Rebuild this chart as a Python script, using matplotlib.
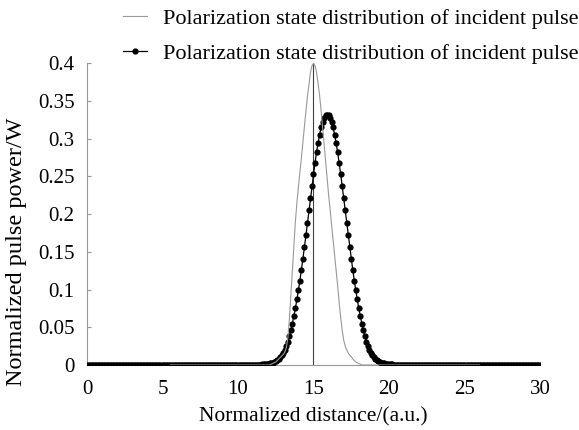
import numpy as np
import matplotlib
matplotlib.use("Agg")
import matplotlib.pyplot as plt

plt.rcParams['font.family'] = ['Liberation Serif', 'DejaVu Serif']

# ---- data ----
label_text = 'Polarization state distribution of incident pulse'
x_step = 0.1

# black dotted curve: zero everywhere except a pulse starting at x=11.6
black_start = 11.6
black_left = [0.001, 0.001, 0.001, 0.001, 0.001, 0.002, 0.002, 0.003, 0.004, 0.005,
              0.006, 0.008, 0.010, 0.013, 0.016, 0.020, 0.025, 0.031, 0.038, 0.046,
              0.055, 0.065, 0.075, 0.087, 0.099, 0.112, 0.126, 0.141, 0.156, 0.172,
              0.188, 0.205, 0.221, 0.237, 0.253, 0.268, 0.282, 0.294, 0.305, 0.315,
              0.322, 0.328, 0.331]
black_top = 0.332
black_right = black_left[::-1]
black_vals = black_left + [black_top] + black_right

# grey curve: pulse centred on x=15, starting at x=12.2
grey_range = (5.5, 26.0)
grey_start = 12.2
grey_left = [0.001, 0.002, 0.003, 0.004, 0.006, 0.008, 0.010, 0.012, 0.014, 0.017,
             0.023, 0.036, 0.060, 0.093, 0.127, 0.160, 0.190, 0.215, 0.236, 0.255,
             0.275, 0.296, 0.317, 0.337, 0.356, 0.372, 0.388, 0.397]
grey_top = 0.400
grey_right = [0.397, 0.388, 0.374, 0.358, 0.338, 0.316, 0.293, 0.270, 0.248, 0.226,
              0.206, 0.186, 0.167, 0.147, 0.126, 0.105, 0.083, 0.063, 0.046, 0.033,
              0.025, 0.020, 0.016, 0.013, 0.011, 0.008, 0.006, 0.004, 0.003, 0.002,
              0.001]
grey_vals = grey_left + [grey_top] + grey_right

yticks = [0, 0.05, 0.1, 0.15, 0.2, 0.25, 0.3, 0.35, 0.4]
ytick_labels = ['0', '0.05', '0.1', '0.15', '0.2', '0.25', '0.3', '0.35', '0.4']
xticks = [0, 5, 10, 15, 20, 25, 30]

# build full series
x_black = np.round(np.arange(0, 30 + x_step / 2, x_step), 1)
y_black = np.zeros_like(x_black)
i0 = int(round(black_start / x_step))
y_black[i0:i0 + len(black_vals)] = black_vals

x_grey = np.round(np.arange(grey_range[0], grey_range[1] + x_step / 2, x_step), 1)
y_grey = np.zeros_like(x_grey)
j0 = int(round((grey_start - grey_range[0]) / x_step))
y_grey[j0:j0 + len(grey_vals)] = grey_vals

fig = plt.figure(figsize=(5.79, 4.30), dpi=100)
ax = fig.add_axes([0.1503, 0.1512, 0.7823, 0.7016])

ax.plot(x_black, y_black, color='black', lw=0.9, marker='o', ms=4.5,
        markeredgewidth=0, label=label_text, zorder=3)
ax.plot(x_grey, y_grey, color='#999999', lw=0.8, label=label_text, zorder=4)
ax.vlines(15, 0, 0.4, color='#404040', lw=0.8, zorder=2)

ax.set_xlim(0, 30)
ax.set_ylim(0, 0.4)
ax.set_yticks(yticks)
ax.set_yticklabels(ytick_labels)
ax.set_xticks(xticks)
for s in ['top', 'right']:
    ax.spines[s].set_visible(False)
for s in ['left', 'bottom']:
    ax.spines[s].set_color('#999999')
    ax.spines[s].set_linewidth(0.8)
ax.tick_params(axis='y', direction='in', length=3, color='#999999', labelsize=15, pad=9)
ax.tick_params(axis='x', length=0, labelsize=15, pad=11)

fig.text(0.029, 0.414, 'Normalized pulse power/W', rotation=90, fontsize=17.5,
         ha='center', va='center')
fig.text(0.5415, 0.03, 'Normalized distance/(a.u.)', fontsize=15.5,
         ha='center', va='center')

h, l = ax.get_legend_handles_labels()
fig.legend(h[::-1], l[::-1], loc='upper right', bbox_to_anchor=(1.033, 1.027),
           frameon=False, fontsize=16, handlelength=1.1, handletextpad=0.7,
           labelspacing=0.65)

fig.savefig('out.png', dpi=100)
